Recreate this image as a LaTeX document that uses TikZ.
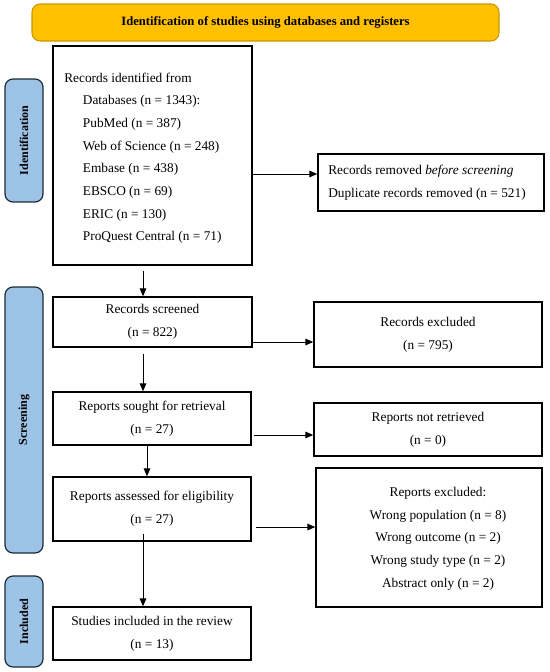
\documentclass[tikz,border=0pt]{standalone}
\usepackage{fontspec}
\setmainfont{Liberation Serif}
\usetikzlibrary{arrows.meta}
\definecolor{headfill}{HTML}{FFC000}
\definecolor{headdraw}{HTML}{C99700}
\definecolor{phaseblue}{HTML}{9DC3E6}
\definecolor{phasedraw}{HTML}{1E2A38}
\begin{document}
\begin{tikzpicture}[x=0.75pt,y=-0.75pt]
\tikzset{
 px/.style 2 args={minimum width=#1*0.75pt, minimum height=#2*0.75pt},
 box/.style={draw=black, line width=1.1pt, fill=white, inner sep=0pt, align=center, font=\fontsize{10}{17}\selectfont},
 head/.style={draw=headdraw, line width=0.8pt, fill=headfill, rounded corners=6pt, inner sep=0pt, font=\bfseries\fontsize{9.5}{11}\selectfont},
 phase/.style={draw=phasedraw, line width=0.9pt, fill=phaseblue, rounded corners=6pt, inner sep=0pt, font=\bfseries\fontsize{9}{11}\selectfont, rotate=90},
 txt/.style={inner sep=0pt, font=\fontsize{10}{17}\selectfont},
 arr/.style={-{Triangle[length=6pt,width=5pt]}, line width=0.75pt},
}
\useasboundingbox (0,0) rectangle (550,672);
% header
\node[head, px={467}{37}] (head) at (265.5,22.5) {Identification of studies using databases and registers};
% phase labels
\node[phase, px={123}{38}] (lab1) at (24,140.5) {Identification};
\node[phase, px={266}{38}] (lab2) at (24,420) {Screening};
\node[phase, px={91}{38}] (lab3) at (24,621.5) {Included};
% left column
\node[box, px={199}{219}] (b1) at (152.5,155.5) {};
\node[txt, align=left, anchor=north west] (t1) at (64,72.5) {Records identified from\\
\hspace*{14pt}Databases (n = 1343):\\
\hspace*{14pt}PubMed (n = 387)\\
\hspace*{14pt}Web of Science (n = 248)\\
\hspace*{14pt}Embase (n = 438)\\
\hspace*{14pt}EBSCO (n = 69)\\
\hspace*{14pt}ERIC (n = 130)\\
\hspace*{14pt}ProQuest Central (n = 71)};
\node[box, px={199}{50}] (b2) at (152.5,322) {Records screened\\(n = 822)};
\node[box, px={198}{53}] (b3) at (152,418.5) {Reports sought for retrieval\\(n = 27)};
\node[box, px={198}{64}] (b4) at (152,509) {Reports assessed for eligibility\\(n = 27)};
\node[box, px={198}{53}] (b5) at (152,633.5) {Studies included in the review\\(n = 13)};
% right column
\node[box, px={226}{57}] (r1) at (431,182.5) {};
\node[txt, align=left, anchor=west] (t2) at (328,183) {Records removed \textit{before screening}\\Duplicate records removed (n = 521)};
\node[box, px={228}{65}] (r2) at (428,334.5) {Records excluded\\(n = 795)};
\node[box, px={228}{53}] (r3) at (428,429.5) {Reports not retrieved\\(n = 0)};
\node[box, px={226}{139}] (r4) at (429,537.5) {};
\node[txt, align=center] (t4) at (438,538.5) {Reports excluded:\\Wrong population (n = 8)\\Wrong outcome (n = 2)\\Wrong study type (n = 2)\\Abstract only (n = 2)};
% helper coordinates
\coordinate (c143) at (143,0);
\coordinate (c147) at (147,0);
\coordinate (h1) at (0,174);
\coordinate (h2) at (0,342);
\coordinate (h3) at (0,435);
\coordinate (h4) at (0,527);
% vertical arrows
\draw[arr] ([yshift=-3.75pt]b1.south -| c143) -- (b2.north -| c143);
\draw[arr] ([yshift=-4.5pt]b2.south -| c143) -- (b3.north -| c143);
\draw[arr] (b3.south -| c147) -- (b4.north -| c147);
\draw[arr] ([yshift=6pt]b4.south -| c143) -- (b5.north -| c143);
% horizontal arrows
\draw[arr] (b1.east |- h1) -- (r1.west |- h1);
\draw[arr] (b2.east |- h2) -- (r2.west |- h2);
\draw[arr] ([xshift=2pt]b3.east |- h3) -- (r3.west |- h3);
\draw[arr] ([xshift=3pt]b4.east |- h4) -- (r4.west |- h4);
\end{tikzpicture}
\end{document}
